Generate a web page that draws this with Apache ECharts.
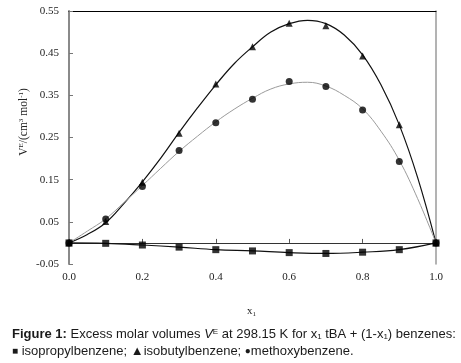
<!DOCTYPE html>
<html>
<head>
<meta charset="utf-8">
<script src="https://cdn.jsdelivr.net/npm/echarts@6/dist/echarts.min.js"></script>
<style>
  html, body { margin: 0; padding: 0; background: #fff; }
  #chart { width: 461px; height: 363px; }
</style>
</head>
<body>
<div id="chart"></div>
<script>
// measured points (x1, VE)
const xPoints = [0.0, 0.1, 0.2, 0.3, 0.4, 0.5, 0.6, 0.7, 0.8, 0.9, 1.0];
const isopropyl = [0, -0.001, -0.005, -0.010, -0.016, -0.019, -0.023, -0.025, -0.022, -0.016, 0];
const isobutyl = [0, 0.051, 0.144, 0.260, 0.377, 0.465, 0.521, 0.515, 0.443, 0.280, 0];
const methoxy = [0, 0.057, 0.134, 0.219, 0.285, 0.341, 0.383, 0.371, 0.315, 0.193, 0];

// fitted curves, every 0.05
const xFit = [0, 0.05, 0.1, 0.15, 0.2, 0.25, 0.3, 0.35, 0.4, 0.45, 0.5, 0.55, 0.6, 0.65, 0.7, 0.75, 0.8, 0.85, 0.9, 0.95, 1.0];
const isobutylFit = [0, 0.020, 0.048, 0.094, 0.145, 0.201, 0.262, 0.320, 0.375, 0.425, 0.465, 0.500, 0.520, 0.528, 0.520, 0.493, 0.446, 0.375, 0.280, 0.155, 0];
const methoxyFit = [0, 0.028, 0.057, 0.096, 0.136, 0.177, 0.217, 0.253, 0.287, 0.317, 0.343, 0.365, 0.377, 0.381, 0.372, 0.350, 0.318, 0.265, 0.196, 0.105, 0];

const yTicks = [-0.05, 0.05, 0.15, 0.25, 0.35, 0.45, 0.55];
const xTicks = [0, 0.2, 0.4, 0.6, 0.8, 1.0];

const pairs = (xs, ys) => xs.map((x, i) => [x, ys[i]]);

const chart = echarts.init(document.getElementById('chart'), null, { renderer: 'canvas' });

const serif = '"Liberation Serif", "DejaVu Serif", serif';
const sans = '"Liberation Sans", Arial, sans-serif';

const option = {
    animation: false,
    grid: { left: 69, top: 11, width: 367, height: 253 },
    xAxis: [
        {
            // bottom labels only
            type: 'value', min: 0, max: 1,
            axisLine: { show: false, onZero: false },
            axisTick: { show: false },
            splitLine: { show: false },
            axisLabel: {
                customValues: xTicks,
                formatter: v => v.toFixed(1),
                fontFamily: serif, fontSize: 11, color: '#222', margin: 8
            }
        },
        {
            // zero line with ticks pointing up
            type: 'value', min: 0, max: 1, position: 'bottom',
            axisLine: { show: true, onZero: true, lineStyle: { color: '#333', width: 1 } },
            axisTick: { show: true, inside: true, length: 4, customValues: xTicks, lineStyle: { color: '#555' } },
            axisLabel: { show: false },
            splitLine: { show: false }
        },
        {
            // top frame
            type: 'value', min: 0, max: 1, position: 'top',
            axisLine: { show: true, onZero: false, lineStyle: { color: '#000', width: 1 } },
            axisTick: { show: false }, axisLabel: { show: false }, splitLine: { show: false }
        }
    ],
    yAxis: [
        {
            type: 'value', min: -0.05, max: 0.55,
            axisLine: { show: true, onZero: false, lineStyle: { color: '#8a8a8a', width: 2 } },
            axisTick: { show: true, inside: true, length: 4, customValues: yTicks, lineStyle: { color: '#777' } },
            axisLabel: {
                customValues: yTicks,
                formatter: v => v.toFixed(2),
                fontFamily: serif, fontSize: 11, color: '#222', margin: 10
            },
            splitLine: { show: false }
        },
        {
            // right frame
            type: 'value', min: -0.05, max: 0.55, position: 'right',
            axisLine: { show: true, onZero: false, lineStyle: { color: '#9a9a9a', width: 1.5 } },
            axisTick: { show: false }, axisLabel: { show: false }, splitLine: { show: false }
        }
    ],
    graphic: [
        {
            // y axis title
            type: 'text', x: 24, y: 122, rotation: Math.PI / 2,
            style: {
                text: '{t|V}{sup|E}{t|/(cm}{sup|3}{t| mol}{sup|-1}{t|)}',
                align: 'center', verticalAlign: 'middle',
                rich: {
                    t: { fontFamily: serif, fontSize: 11.5, fill: '#222' },
                    sup: { fontFamily: serif, fontSize: 7, fill: '#222', padding: [0, 0, 5, 0] }
                }
            }
        },
        {
            type: 'text', left: 247, top: 306,
            style: {
                text: '{t|x}{sub|1}',
                rich: {
                    t: { fontFamily: serif, fontSize: 11, fill: '#222' },
                    sub: { fontFamily: serif, fontSize: 7, fill: '#222', padding: [5, 0, 0, 0] }
                }
            }
        },
        {
            type: 'text', left: 12, top: 328,
            style: {
                text: '{b|Figure 1:}{n| Excess molar volumes }{i|V}{sup|E}{n| at 298.15 K for x}{sub|1}{n| tBA + (1-x}{sub|1}{n|) benzenes:}',
                rich: {
                    b: { fontFamily: sans, fontSize: 13, fontWeight: 'bold', fill: '#1a1a1a' },
                    n: { fontFamily: sans, fontSize: 13, fill: '#1a1a1a' },
                    i: { fontFamily: sans, fontSize: 13, fontStyle: 'italic', fill: '#1a1a1a' },
                    sup: { fontFamily: sans, fontSize: 8, fill: '#1a1a1a', padding: [0, 0, 5, 0] },
                    sub: { fontFamily: sans, fontSize: 8, fill: '#1a1a1a', padding: [5, 0, 0, 0] }
                }
            }
        },
        {
            type: 'text', left: 12, top: 345,
            style: {
                text: '{s|■} isopropylbenzene; ▲isobutylbenzene; {s|●}methoxybenzene.',
                fontFamily: sans, fontSize: 13, fill: '#1a1a1a',
                rich: { s: { fontFamily: sans, fontSize: 10, fill: '#1a1a1a' } }
            }
        }
    ],
    series: [
        {
            name: 'isopropylbenzene fit', type: 'line', xAxisIndex: 0, yAxisIndex: 0,
            data: pairs(xPoints, isopropyl), smooth: 0.4, showSymbol: false,
            lineStyle: { color: '#111', width: 1.2 }, z: 3
        },
        {
            name: 'isobutylbenzene fit', type: 'line', xAxisIndex: 0, yAxisIndex: 0,
            data: pairs(xFit, isobutylFit), smooth: 0.4, showSymbol: false,
            lineStyle: { color: '#111', width: 1.2 }, z: 3
        },
        {
            name: 'methoxybenzene fit', type: 'line', xAxisIndex: 0, yAxisIndex: 0,
            data: pairs(xFit, methoxyFit), smooth: 0.4, showSymbol: false,
            lineStyle: { color: '#9a9a9a', width: 1 }, z: 3
        },
        {
            name: 'isopropylbenzene', type: 'scatter', xAxisIndex: 0, yAxisIndex: 0,
            data: pairs(xPoints, isopropyl), symbol: 'rect', symbolSize: 7,
            itemStyle: { color: '#000' }, z: 5
        },
        {
            name: 'isobutylbenzene', type: 'scatter', xAxisIndex: 0, yAxisIndex: 0,
            data: pairs(xPoints, isobutyl), symbol: 'triangle', symbolSize: 7,
            itemStyle: { color: '#000' }, z: 5
        },
        {
            name: 'methoxybenzene', type: 'scatter', xAxisIndex: 0, yAxisIndex: 0,
            data: pairs(xPoints, methoxy), symbol: 'circle', symbolSize: 7,
            itemStyle: { color: '#000' }, z: 5
        }
    ]
};

chart.setOption(option);
</script>
</body>
</html>
